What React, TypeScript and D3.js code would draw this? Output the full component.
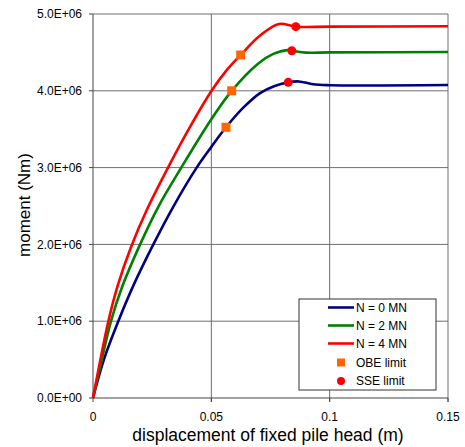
import React from "react";
import * as d3 from "d3";

// displacement (m), moment (Nm)
const seriesN0: [number, number][] = [
  [0, 0], [0.0046, 0.5e6], [0.0107, 1.0e6], [0.017, 1.46e6], [0.0255, 2.0e6], [0.0339, 2.49e6],
  [0.0438, 3.0e6], [0.05, 3.27e6], [0.0562, 3.525e6], [0.0635, 3.78e6], [0.0706, 3.97e6],
  [0.0765, 4.06e6], [0.0825, 4.11e6], [0.087, 4.122e6], [0.093, 4.085e6], [0.1, 4.073e6],
  [0.15, 4.075e6],
];
const seriesN2: [number, number][] = [
  [0, 0], [0.0035, 0.47e6], [0.0076, 1.0e6], [0.0121, 1.43e6], [0.0199, 2.0e6], [0.0276, 2.49e6],
  [0.0373, 3.0e6], [0.05, 3.63e6], [0.0586, 4.0e6], [0.07, 4.36e6], [0.0762, 4.48e6],
  [0.082, 4.53e6], [0.084, 4.522e6], [0.09, 4.497e6], [0.1, 4.5e6], [0.15, 4.505e6],
];
const seriesN4: [number, number][] = [
  [0, 0], [0.0065, 1.0e6], [0.0104, 1.46e6], [0.016, 1.96e6], [0.0229, 2.46e6],
  [0.0322, 3.03e6], [0.041, 3.53e6], [0.0501, 4.0e6], [0.056, 4.25e6], [0.0624, 4.466e6],
  [0.0706, 4.72e6], [0.0786, 4.87e6], [0.0857, 4.835e6], [0.1, 4.835e6], [0.15, 4.84e6],
];
const obeLimit: [number, number][] = [[0.0562, 3.525e6], [0.0586, 4.0e6], [0.0624, 4.466e6]];
const sseLimit: [number, number][] = [[0.0825, 4.11e6], [0.084, 4.522e6], [0.0857, 4.835e6]];

const seriesNames = ["N = 0 MN", "N = 2 MN", "N = 4 MN"];
const seriesColors = ["#000080", "#008000", "#ff0000"];
const xTicks = [0, 0.05, 0.1, 0.15];
const yTicks = [0, 1e6, 2e6, 3e6, 4e6, 5e6];
const yTickLabels = ["0.0E+00", "1.0E+06", "2.0E+06", "3.0E+06", "4.0E+06", "5.0E+06"];

export default function App() {
  const W = 465, H = 447;
  const left = 93, right = 448, top = 14, bottom = 398;
  const x = d3.scaleLinear().domain([0, 0.15]).range([left, right]);
  const y = d3.scaleLinear().domain([0, 5e6]).range([bottom, top]);
  const line = d3.line<[number, number]>().x(d => x(d[0])).y(d => y(d[1])).curve(d3.curveCatmullRom.alpha(0.5));
  const all = [seriesN0, seriesN2, seriesN4];
  const font = "Liberation Sans, Arial, sans-serif";
  const grid = "#6e6e6e";
  const lg = { x: 299, y: 299, w: 137, h: 91 };
  const rows = [307.5, 325.5, 343.5, 362.5, 381];

  return (
    <svg width={W} height={H} style={{ position: "absolute", left: 0, top: 0, background: "#fff" }} fontFamily={font}>
      <rect x={0} y={0} width={W} height={H} fill="#fff" />
      {/* grid */}
      {yTicks.slice(1).map(t => (
        <line key={"gy" + t} x1={left} x2={right} y1={y(t)} y2={y(t)} stroke={grid} strokeWidth={1} />
      ))}
      {xTicks.slice(1).map(t => (
        <line key={"gx" + t} x1={x(t)} x2={x(t)} y1={top} y2={bottom + 4} stroke={grid} strokeWidth={1} />
      ))}
      {/* axes */}
      <line x1={left} x2={left} y1={top} y2={bottom} stroke="#444" />
      <line x1={left} x2={right} y1={bottom} y2={bottom} stroke="#444" />
      {yTicks.map((t, i) => (
        <g key={"ty" + t}>
          <line x1={left - 4} x2={left} y1={y(t)} y2={y(t)} stroke="#444" />
          <text x={left - 11} y={y(t)} dy="0.35em" textAnchor="end" fontSize={12} fill="#000">{yTickLabels[i]}</text>
        </g>
      ))}
      {xTicks.map(t => (
        <g key={"tx" + t}>
          <line x1={x(t)} x2={x(t)} y1={bottom} y2={bottom + 4} stroke="#444" />
          <text x={x(t)} y={417} dy="0.35em" textAnchor="middle" fontSize={12} fill="#000">{String(t)}</text>
        </g>
      ))}
      <text x={268} y={435} dy="0.35em" textAnchor="middle" fontSize={17.5} fill="#000">displacement of fixed pile head (m)</text>
      <text transform={`translate(24,${205}) rotate(-90)`} dy="0.35em" textAnchor="middle" fontSize={17} fill="#000">moment (Nm)</text>
      {/* curves */}
      {all.map((s, i) => (
        <path key={"s" + i} d={line(s) || ""} fill="none" stroke={seriesColors[i]} strokeWidth={2.6} />
      ))}
      {obeLimit.map((d, i) => (
        <rect key={"o" + i} x={x(d[0]) - 4.5} y={y(d[1]) - 4.5} width={9} height={9} fill="#ff6600" />
      ))}
      {sseLimit.map((d, i) => (
        <circle key={"c" + i} cx={x(d[0])} cy={y(d[1])} r={4.5} fill="#ff0000" />
      ))}
      {/* legend */}
      <rect x={lg.x} y={lg.y} width={lg.w} height={lg.h} fill="#fff" stroke="#333" strokeWidth={1} />
      {seriesNames.map((n, i) => (
        <g key={"l" + i}>
          <line x1={328} x2={354} y1={rows[i]} y2={rows[i]} stroke={seriesColors[i]} strokeWidth={2.6} />
          <text x={356} y={rows[i]} dy="0.35em" fontSize={12} fill="#000">{n}</text>
        </g>
      ))}
      <rect x={337} y={rows[3] - 4} width={8} height={8} fill="#ff6600" />
      <text x={356} y={rows[3]} dy="0.35em" fontSize={12} fill="#000">OBE limit</text>
      <circle cx={341} cy={rows[4]} r={4} fill="#ff0000" />
      <text x={356} y={rows[4]} dy="0.35em" fontSize={12} fill="#000">SSE limit</text>
    </svg>
  );
}
